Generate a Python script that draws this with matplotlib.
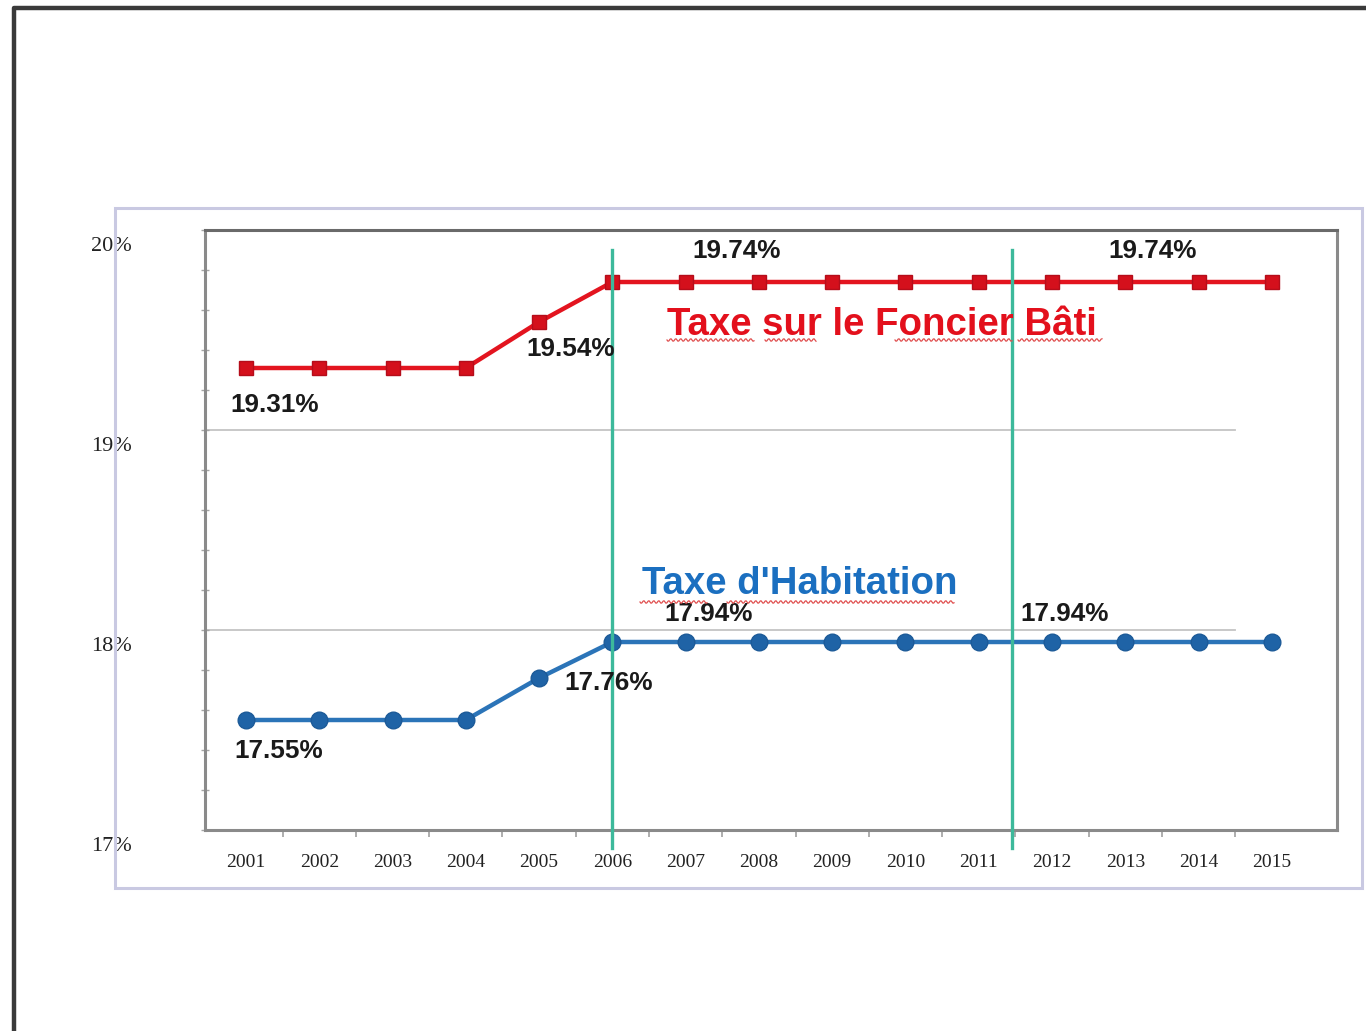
import numpy as np
import matplotlib
matplotlib.use("Agg")
import matplotlib.pyplot as plt
from matplotlib.lines import Line2D
from matplotlib.patches import Rectangle
from matplotlib import transforms as mtrans

# ---------------- data ----------------
years = [2001, 2002, 2003, 2004, 2005, 2006, 2007, 2008, 2009, 2010,
         2011, 2012, 2013, 2014, 2015]
foncier_bati = [19.31, 19.31, 19.31, 19.31, 19.54, 19.74, 19.74, 19.74,
                19.74, 19.74, 19.74, 19.74, 19.74, 19.74, 19.74]
habitation = [17.55, 17.55, 17.55, 17.55, 17.76, 17.94, 17.94, 17.94,
              17.94, 17.94, 17.94, 17.94, 17.94, 17.94, 17.94]
ytick_values = [17, 18, 19, 20]
ytick_labels = ["17%", "18%", "19%", "20%"]
series_names = ["Taxe sur le Foncier Bâti", "Taxe d'Habitation"]
fb_labels = [(2001, "19.31%"), (2005, "19.54%"), (2007, "19.74%"), (2013, "19.74%")]
th_labels = [(2001, "17.55%"), (2005, "17.76%"), (2007, "17.94%"), (2012, "17.94%")]
marker_years = [2006, 2011.45]

W, H = 1366, 1031
fig = plt.figure(figsize=(W / 100, H / 100), dpi=100)
fig.patch.set_facecolor("white")


def fx(px):
    return px / W


def fy(py):
    return 1 - py / H


# outer dark frame (left + top)
fig.add_artist(Line2D([fx(14), fx(14), fx(1366)], [fy(1031), fy(8), fy(8)],
                      color="#3a3a3a", lw=3.2, transform=fig.transFigure))
# inner lavender frame
fig.add_artist(Rectangle((fx(115), fy(888)), fx(1362) - fx(115), fy(208) - fy(888),
                         transform=fig.transFigure, fill=False,
                         edgecolor="#c9c9e2", lw=2.2))

ax = fig.add_axes([fx(205), fy(830), fx(1337) - fx(205), fy(230) - fy(830)])
ax.set_xlim(2000.44, 2015.89)
ax.set_ylim(17, 20)
for s in ax.spines.values():
    s.set_color("#8a8a8a")
    s.set_linewidth(2.2)
ax.spines["top"].set_color("#6a6a6a")

# gridlines at 18 and 19
for g in [18, 19]:
    ax.axhline(g, xmin=0, xmax=0.91, color="#c4c4c4", lw=1.3, zorder=1)

# ticks
ax.set_yticks(ytick_values)
ax.set_yticklabels([])
ax.set_yticks(np.arange(17, 20.01, 0.2), minor=True)
ax.tick_params(axis="y", which="both", direction="inout", length=6,
               color="#a5a5a5", width=1.0)
ax.set_xticks(years)
ax.set_xticklabels([str(y) for y in years], family="Liberation Serif",
                   fontsize=14, color="#222222")
ax.set_xticks([y + 0.5 for y in years[:-1]], minor=True)
ax.tick_params(axis="x", which="major", length=0, pad=17)
ax.tick_params(axis="x", which="minor", direction="out", length=5,
               color="#a0a0a0", width=1.2)

# y labels outside (left of the lavender frame)
ytrans = mtrans.blended_transform_factory(fig.transFigure, ax.transData) + \
    mtrans.ScaledTranslation(0, -17 / 100, fig.dpi_scale_trans)
for v, lab in zip(ytick_values, ytick_labels):
    ax.text(fx(111), v, lab, transform=ytrans, ha="center", va="center",
            family="Liberation Serif", fontsize=16, color="#222222", clip_on=False)

# vertical green lines
for xv in marker_years:
    ax.plot([xv, xv], [16.91, 19.9], color="#3db99b", lw=2.4, zorder=5,
            clip_on=False)

# series
ax.plot(years, foncier_bati, color="#e3141f", lw=3.2, marker="s", markersize=10.5,
        markerfacecolor="#d4101c", markeredgecolor="#b50d1a", zorder=3)
ax.plot(years, habitation, color="#2b74b8", lw=3.2, marker="o", markersize=12,
        markerfacecolor="#1f63a6", markeredgecolor="#1c5a98", zorder=3)

# data labels
fb_off = {2001: (29, -37), 2005: (32, -27), 2007: (51, 31), 2013: (27, 31)}
th_off = {2001: (33, -31), 2005: (70, -5), 2007: (23, 28), 2012: (13, 28)}
for yr, lab in fb_labels:
    v = foncier_bati[years.index(yr)]
    dx, dy = fb_off[yr]
    ax.annotate(lab, (yr, v), xytext=(dx * 0.72, dy * 0.72), textcoords="offset points",
                ha="center", va="center", family="Liberation Sans", weight="bold",
                fontsize=18.8, color="#1a1a1a", zorder=6)
for yr, lab in th_labels:
    v = habitation[years.index(yr)]
    dx, dy = th_off[yr]
    ax.annotate(lab, (yr, v), xytext=(dx * 0.72, dy * 0.72), textcoords="offset points",
                ha="center", va="center", family="Liberation Sans", weight="bold",
                fontsize=18.8, color="#1a1a1a", zorder=6)

# series names
fig.text(fx(882), fy(325), series_names[0], ha="center", va="center",
         family="Liberation Sans", weight="bold", fontsize=27.6, color="#e3101c")
fig.text(fx(800), fy(584), series_names[1], ha="center", va="center",
         family="Liberation Sans", weight="bold", fontsize=27.6, color="#1b6fc0")

# spell-check wavy underlines (decoration)
def wavy(x0, x1, y):
    xs = np.arange(x0, x1, 1.0)
    ys = y + 1.3 * np.sin((xs - x0) * np.pi / 2.5)
    fig.add_artist(Line2D(xs / W, 1 - ys / H, color="#e05050", lw=0.9,
                          transform=fig.transFigure))

for a, b in [(667, 755), (765, 817), (895, 1013), (1018, 1103)]:
    wavy(a, b, 340)
for a, b in [(640, 708), (727, 955)]:
    wavy(a, b, 602)

fig.savefig("out.png", dpi=100, facecolor="white")
